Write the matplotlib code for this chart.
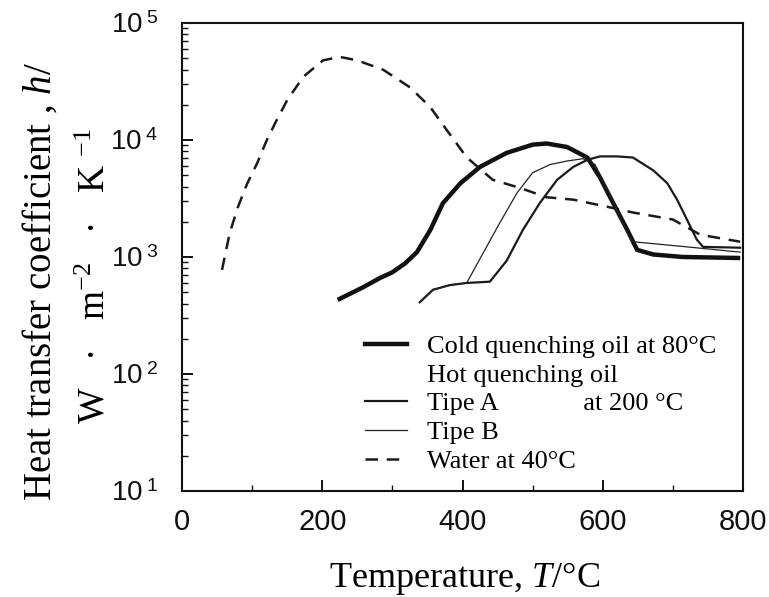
import numpy as np
import matplotlib
matplotlib.use("Agg")
import matplotlib.pyplot as plt
from matplotlib.lines import Line2D
from matplotlib.ticker import FixedLocator, LogLocator, NullFormatter, MultipleLocator

plt.rcParams['mathtext.fontset'] = 'custom'
plt.rcParams['mathtext.rm'] = 'Liberation Sans'
plt.rcParams['mathtext.it'] = 'Liberation Serif:italic'

# temperature (degC) and heat transfer coefficient (W m-2 K-1)
water_T = [57, 68, 80, 93, 107, 121, 135, 150, 173, 201, 225, 250, 287, 325, 354,
           372, 406, 443, 482, 520, 558, 606, 643, 700, 739, 796]
water_h = [775, 1600, 2700, 4250, 6300, 10000, 14800, 21900, 34700, 47900, 51300,
           47900, 39800, 28200, 19100, 13500, 7100, 4570, 3890, 3240, 3090, 2690,
           2400, 2090, 1550, 1350]

cold_T = [222, 258, 282, 300, 318, 335, 354, 372, 397, 425, 463, 500, 520, 549,
          578, 596, 615, 635, 649, 672, 714, 796]
cold_h = [430, 550, 660, 740, 880, 1100, 1700, 2880, 4270, 5890, 7760, 9120, 9330,
          8710, 7080, 4790, 2880, 1700, 1150, 1050, 1000, 980]

typeA_T = [339, 358, 382, 406, 439, 463, 486, 510, 535, 558, 578, 596, 620, 643,
           672, 692, 706, 720, 734, 743, 796]
typeA_h = [410, 525, 575, 600, 615, 930, 1700, 2880, 4570, 5890, 6760, 7240,
           7240, 7080, 5500, 4270, 3090, 2090, 1410, 1220, 1200]

typeB_T = [339, 358, 382, 406, 429, 453, 478, 500, 525, 549, 572, 589, 603, 620,
           635, 643, 714, 796]
typeB_h = [410, 525, 575, 600, 1070, 1950, 3550, 5250, 6170, 6610, 6920, 6170,
           4170, 2510, 1620, 1350, 1230, 1100]

y_ticks = [10, 100, 1000, 10000, 100000]
y_tick_labels = ['10$^{\\ 1}$', '10$^{\\ 2}$', '10$^{\\ 3}$', '10$^{\\ 4}$', '10$^{\\ 5}$']
x_ticks = [0, 200, 400, 600, 800]

fig = plt.figure(figsize=(7.69, 5.97), dpi=100)
ax = fig.add_axes([0.2367, 0.1776, 0.7295, 0.7839])

ax.plot(water_T, water_h, color='#1a1a1a', lw=1.8, ls=(0, (5, 3.5)))
ax.plot(cold_T, cold_h, color='#111111', lw=3.2, solid_capstyle='butt')
ax.plot(typeA_T, typeA_h, color='#1a1a1a', lw=1.6)
ax.plot(typeB_T, typeB_h, color='#222222', lw=0.9)

ax.set_yscale('log')
ax.set_xlim(0, 800)
ax.set_ylim(10, 100000)

ax.yaxis.set_major_locator(FixedLocator(y_ticks))
ax.set_yticklabels(y_tick_labels)
ax.yaxis.set_minor_locator(LogLocator(base=10, subs=np.arange(2, 10)))
ax.yaxis.set_minor_formatter(NullFormatter())
ax.set_xticks(x_ticks)
ax.xaxis.set_minor_locator(MultipleLocator(100))

ax.tick_params(which='both', direction='in', top=False, right=False, color='#111111')
ax.tick_params(which='major', length=8, width=1.4)
ax.tick_params(which='minor', length=4.5, width=1.0)
ax.tick_params(axis='x', which='major', labelsize=21, pad=12)
ax.tick_params(axis='y', which='major', labelsize=20, pad=17)
for lab in ax.get_xticklabels() + ax.get_yticklabels():
    lab.set_family('Liberation Sans')
    lab.set_color('#111111')
for sp in ax.spines.values():
    sp.set_linewidth(1.5)
    sp.set_color('#111111')

fig.text(0.604, 0.031, 'Temperature, $\\mathit{T}$/°C', family='Liberation Serif',
         fontsize=26, ha='center', va='center')
fig.text(0.052, 0.528, 'Heat transfer coefficient , $\\mathit{h}$/', family='Liberation Serif',
         fontsize=28, ha='center', va='center', rotation=90)
fig.text(0.124, 0.538, 'W   ·   m$^{\\mathregular{-2}}$   ·   K $^{\\mathregular{-1}}$',
         family='Liberation Serif', fontsize=27, ha='center', va='center', rotation=90)

handles = [
    Line2D([], [], color='#111111', lw=3.2),
    Line2D([], [], color='none'),
    Line2D([], [], color='#1a1a1a', lw=1.6),
    Line2D([], [], color='#222222', lw=0.9),
    Line2D([], [], color='#1a1a1a', lw=1.8, ls=(0, (5, 3.5))),
]
labels = ['Cold quenching oil at 80°C', 'Hot quenching oil',
          'Tipe A             at 200 °C', 'Tipe B', 'Water at 40°C']
ax.legend(handles, labels, loc='upper left', bbox_to_anchor=(0.303, 0.363),
          frameon=False, prop={'family': 'Liberation Serif', 'size': 19},
          handlelength=1.6, handletextpad=0.75, labelspacing=0.2, borderpad=0)

fig.savefig('out.png', dpi=100, facecolor='white')
